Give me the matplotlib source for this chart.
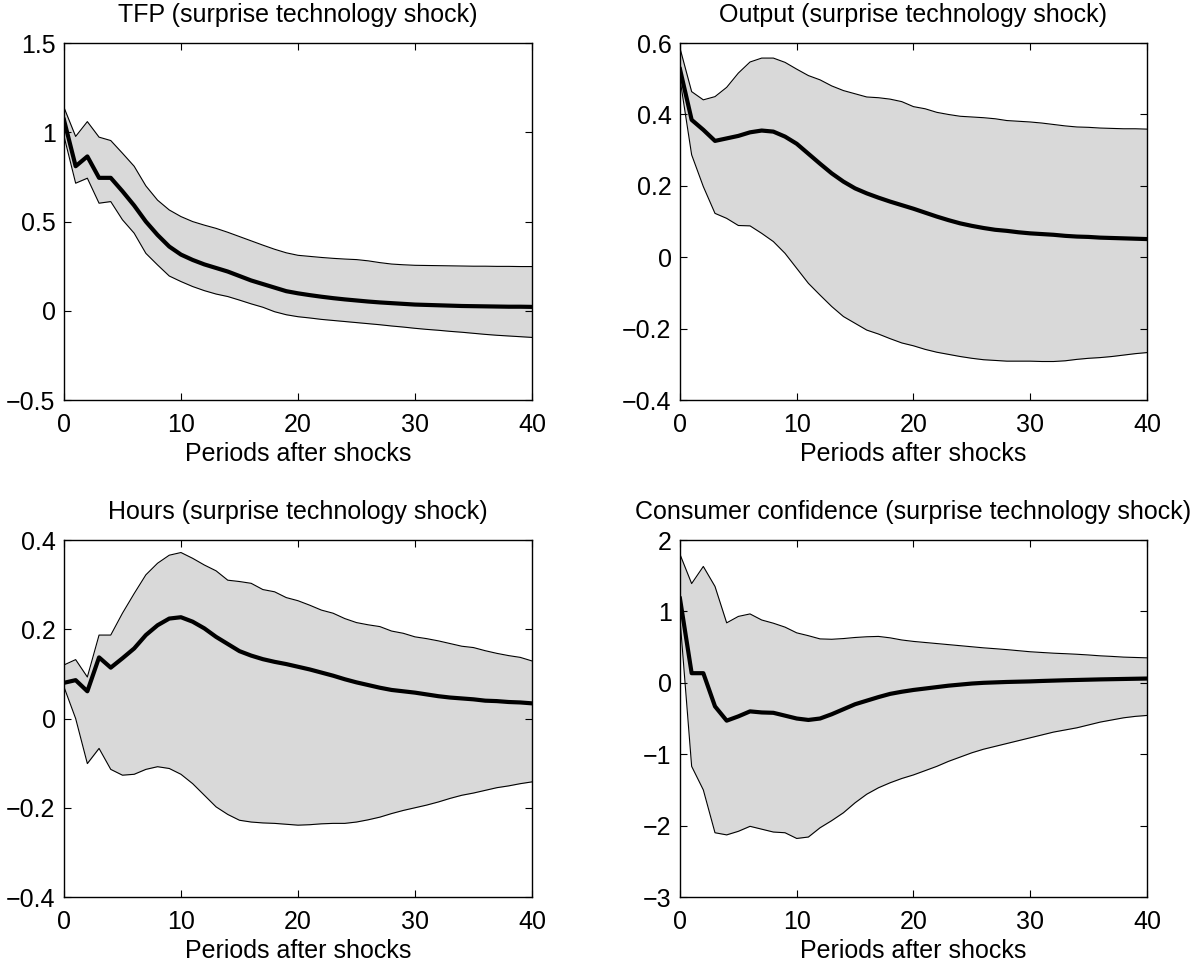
import matplotlib
matplotlib.use("Agg")
import matplotlib.pyplot as plt
import numpy as np
from matplotlib.ticker import FuncFormatter

plt.rcParams['font.family'] = ['Liberation Sans', 'DejaVu Sans']

periods = np.arange(41)

# TFP
tfp_med = [1.07, 0.81, 0.865, 0.745, 0.745, 0.67, 0.59, 0.50, 0.425, 0.36,
           0.315, 0.285, 0.26, 0.24, 0.22, 0.195, 0.17, 0.15, 0.13, 0.11,
           0.098, 0.088, 0.079, 0.071, 0.064, 0.058, 0.052, 0.047, 0.043, 0.039,
           0.035, 0.033, 0.031, 0.029, 0.027, 0.026, 0.025, 0.024, 0.023, 0.023, 0.022]
tfp_hi = [1.14, 0.977, 1.06, 0.973, 0.954, 0.883, 0.81, 0.70, 0.62, 0.565,
          0.528, 0.50, 0.48, 0.462, 0.44, 0.416, 0.392, 0.368, 0.345, 0.325,
          0.311, 0.305, 0.299, 0.294, 0.29, 0.287, 0.28, 0.27, 0.262, 0.258,
          0.255, 0.254, 0.253, 0.252, 0.251, 0.25, 0.25, 0.249, 0.249, 0.248, 0.248]
tfp_lo = [0.98, 0.715, 0.743, 0.603, 0.612, 0.51, 0.435, 0.322, 0.257, 0.195,
          0.164, 0.136, 0.113, 0.094, 0.08, 0.06, 0.039, 0.02, -0.005, -0.022,
          -0.033, -0.04, -0.048, -0.054, -0.06, -0.066, -0.072, -0.078, -0.085, -0.091,
          -0.098, -0.104, -0.109, -0.115, -0.12, -0.126, -0.132, -0.137, -0.141, -0.145, -0.149]

# Output
out_med = [0.527, 0.385, 0.357, 0.326, 0.333, 0.34, 0.35, 0.355, 0.352, 0.338,
           0.318, 0.29, 0.262, 0.235, 0.212, 0.193, 0.179, 0.167, 0.156, 0.146,
           0.136, 0.125, 0.114, 0.104, 0.095, 0.088, 0.082, 0.077, 0.074, 0.07,
           0.067, 0.065, 0.063, 0.06, 0.058, 0.057, 0.055, 0.054, 0.053, 0.052, 0.051]
out_hi = [0.586, 0.464, 0.441, 0.45, 0.476, 0.516, 0.547, 0.558, 0.558, 0.546,
          0.527, 0.509, 0.497, 0.48, 0.467, 0.458, 0.449, 0.447, 0.443, 0.436,
          0.422, 0.416, 0.406, 0.40, 0.395, 0.393, 0.391, 0.388, 0.383, 0.381,
          0.379, 0.376, 0.372, 0.368, 0.365, 0.364, 0.362, 0.361, 0.36, 0.36, 0.359]
out_lo = [0.50, 0.287, 0.198, 0.123, 0.109, 0.089, 0.088, 0.067, 0.044, 0.011,
          -0.031, -0.073, -0.106, -0.138, -0.166, -0.185, -0.204, -0.215, -0.228, -0.24,
          -0.248, -0.258, -0.266, -0.272, -0.278, -0.283, -0.287, -0.289, -0.291, -0.291,
          -0.291, -0.292, -0.292, -0.29, -0.286, -0.283, -0.281, -0.278, -0.274, -0.27, -0.267]

# Hours
hrs_med = [0.08, 0.086, 0.061, 0.137, 0.114, 0.135, 0.157, 0.187, 0.209, 0.224,
           0.227, 0.217, 0.202, 0.183, 0.167, 0.151, 0.141, 0.133, 0.127, 0.122,
           0.116, 0.11, 0.103, 0.096, 0.088, 0.081, 0.075, 0.069, 0.064, 0.061,
           0.058, 0.054, 0.05, 0.047, 0.045, 0.043, 0.04, 0.039, 0.037, 0.036, 0.034]
hrs_hi = [0.12, 0.132, 0.093, 0.187, 0.187, 0.236, 0.28, 0.322, 0.348, 0.366,
          0.372, 0.359, 0.344, 0.331, 0.31, 0.307, 0.303, 0.289, 0.284, 0.271,
          0.264, 0.254, 0.243, 0.236, 0.224, 0.215, 0.21, 0.206, 0.196, 0.191,
          0.183, 0.179, 0.174, 0.168, 0.162, 0.159, 0.152, 0.146, 0.141, 0.137, 0.129]
hrs_lo = [0.071, 0.0, -0.101, -0.067, -0.114, -0.127, -0.125, -0.114, -0.108, -0.112,
          -0.125, -0.146, -0.172, -0.198, -0.215, -0.228, -0.232, -0.234, -0.235, -0.237,
          -0.239, -0.238, -0.236, -0.235, -0.235, -0.232, -0.227, -0.221, -0.213, -0.206,
          -0.2, -0.194, -0.187, -0.179, -0.172, -0.167, -0.161, -0.155, -0.151, -0.146, -0.142]

# Consumer confidence
cc_med = [1.18, 0.135, 0.135, -0.33, -0.53, -0.47, -0.40, -0.415, -0.42, -0.46,
          -0.50, -0.52, -0.50, -0.44, -0.37, -0.30, -0.25, -0.20, -0.155, -0.125,
          -0.10, -0.08, -0.06, -0.04, -0.025, -0.01, 0.0, 0.006, 0.012, 0.016,
          0.02, 0.026, 0.031, 0.036, 0.04, 0.044, 0.048, 0.051, 0.054, 0.057, 0.06]
cc_hi = [1.80, 1.39, 1.63, 1.35, 0.84, 0.93, 0.965, 0.88, 0.835, 0.78,
         0.70, 0.66, 0.615, 0.61, 0.62, 0.635, 0.645, 0.65, 0.63, 0.60,
         0.58, 0.565, 0.55, 0.535, 0.52, 0.505, 0.49, 0.478, 0.465, 0.45,
         0.435, 0.425, 0.415, 0.408, 0.40, 0.39, 0.378, 0.37, 0.36, 0.355, 0.35]
cc_lo = [0.9, -1.17, -1.50, -2.10, -2.13, -2.08, -2.01, -2.05, -2.09, -2.10,
         -2.18, -2.16, -2.03, -1.93, -1.82, -1.68, -1.56, -1.47, -1.40, -1.34,
         -1.29, -1.23, -1.17, -1.10, -1.04, -0.98, -0.93, -0.89, -0.85, -0.81,
         -0.77, -0.73, -0.69, -0.66, -0.63, -0.59, -0.55, -0.52, -0.49, -0.47, -0.457]

titles = ["TFP (surprise technology shock)",
          "Output (surprise technology shock)",
          "Hours (surprise technology shock)",
          "Consumer confidence (surprise technology shock)"]
ylims = [(-0.5, 1.5), (-0.4, 0.6), (-0.4, 0.4), (-3, 2)]
yticks = [[-0.5, 0, 0.5, 1, 1.5],
          [-0.4, -0.2, 0, 0.2, 0.4, 0.6],
          [-0.4, -0.2, 0, 0.2, 0.4],
          [-3, -2, -1, 0, 1, 2]]
series = [(tfp_med, tfp_lo, tfp_hi), (out_med, out_lo, out_hi),
          (hrs_med, hrs_lo, hrs_hi), (cc_med, cc_lo, cc_hi)]

# axes boxes in figure fractions [left, bottom, width, height]
boxes = [[0.0532, 0.585, 0.3894, 0.3703],
         [0.5657, 0.585, 0.3885, 0.3703],
         [0.0532, 0.0695, 0.3894, 0.3703],
         [0.5657, 0.0695, 0.3885, 0.3703]]

fig = plt.figure(figsize=(12.02, 9.64), dpi=100)

fmt = FuncFormatter(lambda v, p: ("%g" % v).replace("-", "\u2212"))

for i in range(4):
    ax = fig.add_axes(boxes[i])
    med, lo, hi = series[i]
    ax.fill_between(periods, lo, hi, color="#d9d9d9", linewidth=0)
    ax.plot(periods, hi, color="black", linewidth=0.8)
    ax.plot(periods, lo, color="black", linewidth=0.8)
    ax.plot(periods, med, color="black", linewidth=3)
    ax.set_xlim(0, 40)
    ax.set_ylim(*ylims[i])
    ax.set_xticks([0, 10, 20, 30, 40])
    ax.set_yticks(yticks[i])
    ax.yaxis.set_major_formatter(fmt)
    ax.tick_params(direction="in", top=True, right=True, length=5, width=0.8,
                   labelsize=18)
    ax.tick_params(axis="x", pad=9)
    ax.tick_params(axis="y", pad=6)
    for s in ax.spines.values():
        s.set_linewidth(1.0)
    ax.set_title(titles[i], fontsize=18, pad=15)
    ax.set_xlabel("Periods after shocks", fontsize=18, labelpad=4)

fig.savefig("out.png", dpi=100)
